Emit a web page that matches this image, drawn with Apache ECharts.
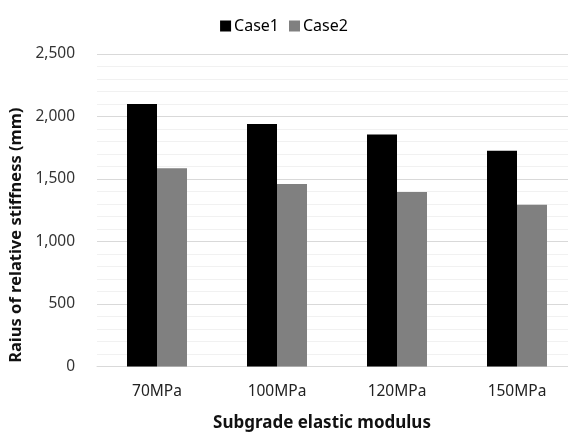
<!DOCTYPE html>
<html>
<head>
<meta charset="utf-8">
<script src="https://cdn.jsdelivr.net/npm/echarts@6/dist/echarts.min.js"></script>
<style>
  html, body { margin: 0; padding: 0; background: #fff; }
  #chart { width: 568px; height: 434px; }
</style>
</head>
<body>
<div id="chart"></div>
<script>
// Subgrade modulus categories and stiffness radius per case (mm)
const categories = ['70MPa', '100MPa', '120MPa', '150MPa'];
const case1 = [2100, 1940, 1856, 1726];
const case2 = [1587, 1460, 1396, 1295];
const yTicks = { min: 0, max: 2500, interval: 500 };

const font = '"Noto Sans", "Open Sans", sans-serif';
const chart = echarts.init(document.getElementById('chart'));

chart.setOption({
  animation: false,
  backgroundColor: '#ffffff',
  textStyle: { fontFamily: font },
  legend: {
    top: 13,
    left: 'center',
    itemWidth: 11,
    itemHeight: 11,
    itemGap: 10,
    icon: 'rect',
    textStyle: { fontSize: 16, color: '#000', fontFamily: font, padding: [0, 0, 0, -2] },
    data: ['Case1', 'Case2']
  },
  // plot area runs slightly past the right edge of the canvas
  grid: { left: 97, right: -9, top: 54, height: 312.5, outerBoundsMode: 'none' },
  xAxis: {
    type: 'category',
    data: categories,
    axisLine: { show: true, lineStyle: { color: '#d9d9d9', width: 1 } },
    axisTick: { show: false },
    axisLabel: { color: '#222', fontSize: 15.5, margin: 17, fontFamily: font },
    name: 'Subgrade elastic modulus',
    nameLocation: 'middle',
    nameGap: 48,
    nameTextStyle: { fontSize: 17, fontWeight: 'bold', color: '#111', fontFamily: font, padding: [0, 30, 0, 0] }
  },
  yAxis: {
    type: 'value',
    min: yTicks.min,
    max: yTicks.max,
    interval: yTicks.interval,
    axisLine: { show: false },
    axisTick: { show: false },
    axisLabel: {
      color: '#333', fontSize: 15.5, margin: 22, fontFamily: font,
      formatter: v => v.toLocaleString('en-US')
    },
    splitLine: { lineStyle: { color: '#d9d9d9', width: 1 } },
    minorTick: { show: false, splitNumber: 5 },
    minorSplitLine: { show: true, lineStyle: { color: '#f1f1f1', width: 1 } },
    name: 'Raius of relative stiffness (mm)',
    nameLocation: 'middle',
    nameGap: 72,
    nameTextStyle: { fontSize: 16.5, fontWeight: 'bold', color: '#111', fontFamily: font, padding: [0, 50, 0, 0] }
  },
  series: [
    {
      name: 'Case1',
      type: 'bar',
      data: case1,
      barWidth: 30,
      barGap: '0%',
      itemStyle: { color: '#000000' }
    },
    {
      name: 'Case2',
      type: 'bar',
      data: case2,
      barWidth: 30,
      itemStyle: { color: '#808080' }
    }
  ]
});
</script>
</body>
</html>
